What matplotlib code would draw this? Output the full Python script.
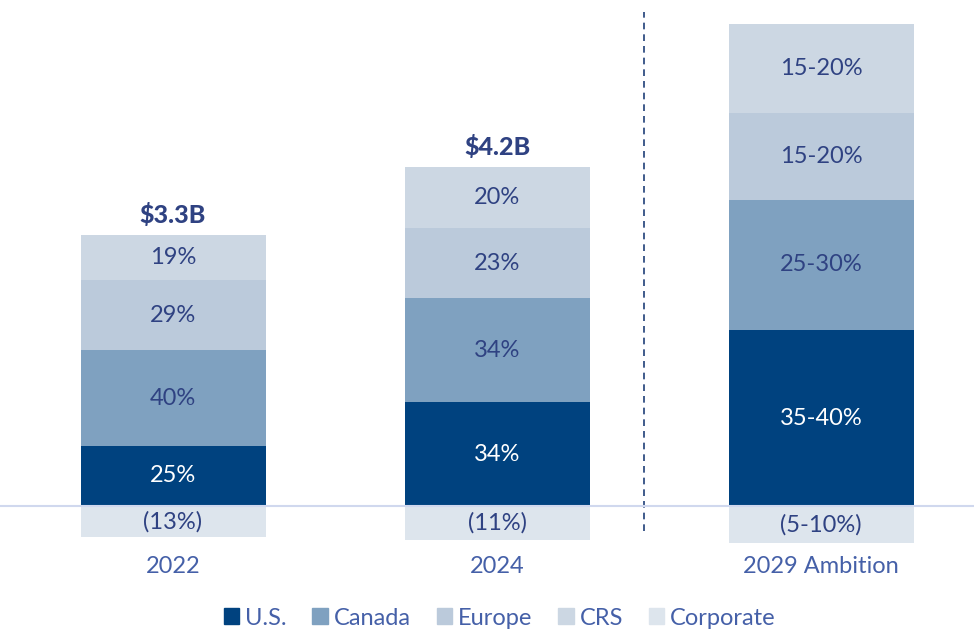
import matplotlib.pyplot as plt
from matplotlib.patches import Patch

plt.rcParams['font.family'] = ['Lato', 'DejaVu Sans']

years = ["2022", "2024", "2029 Ambition"]
totals = ["$3.3B", "$4.2B", ""]
series = ["U.S.", "Canada", "Europe", "CRS"]
# segment heights in $B (share x total), 2029
us = [0.825, 1.428, 2.42]
canada = [1.32, 1.428, 1.79]
europe = [0.957, 0.966, 1.20]
crs = [0.627, 0.84, 1.22]
corporate = [-0.429, -0.462, -0.51]
us_lbl = ["25%", "34%", "35-40%"]
canada_lbl = ["40%", "34%", "25-30%"]
europe_lbl = ["29%", "23%", "15-20%"]
crs_lbl = ["19%", "20%", "15-20%"]
corp_lbl = ["(13%)", "(11%)", "(5-10%)"]

colors = ["#00427f", "#7fa1c0", "#bbcadb", "#ccd7e3"]
corp_color = "#dde5ed"
txt_dark = "#2f4282"
txt_blue = "#4560a8"

fig = plt.figure(figsize=(9.74, 6.3), dpi=100)
ax = fig.add_axes([0, 0, 1, 1])
x = [0, 1, 2]
w = 0.571
fs = 17

bottom = [0, 0, 0]
for vals, lbls, col in zip([us, canada, europe, crs],
                           [us_lbl, canada_lbl, europe_lbl, crs_lbl], colors):
    ax.bar(x, vals, w, bottom=bottom, color=col, zorder=2)
    for i in range(3):
        tc = "white" if col == colors[0] else txt_dark
        ax.text(x[i], bottom[i] + vals[i] / 2, lbls[i], ha="center", va="center",
                fontsize=fs, color=tc, zorder=3)
    bottom = [b + v for b, v in zip(bottom, vals)]

ax.bar(x, corporate, w, color=corp_color, zorder=2)
for i in range(3):
    ax.text(x[i], corporate[i] / 2, corp_lbl[i], ha="center", va="center",
            fontsize=fs, color=txt_dark, zorder=3)
    ax.text(x[i], -0.83, years[i], ha="center", va="center",
            fontsize=fs, color=txt_blue)
    if totals[i]:
        ax.text(x[i], bottom[i] + 0.27, totals[i], ha="center", va="center",
                fontsize=18, fontweight="black", color=txt_dark)

ax.axhline(0, color="#d0d8ee", lw=1.5, zorder=4)
ax.plot([1.453, 1.453], [-0.34, 6.8], ls=(0, (4, 3)), color="#1f3f78", lw=1.2)

ax.set_xlim(-0.534, 2.472)
ax.set_ylim(-1.706, 6.96)
ax.axis("off")

handles = [Patch(color=c) for c in colors + [corp_color]]
fig.legend(handles, series + ["Corporate"], loc="center", bbox_to_anchor=(0.513, 0.019),
           ncol=5, frameon=False, fontsize=fs, handlelength=0.65, handleheight=0.65,
           handletextpad=0.25, columnspacing=1.1, labelcolor=txt_blue)

fig.savefig("out.png", dpi=100)
